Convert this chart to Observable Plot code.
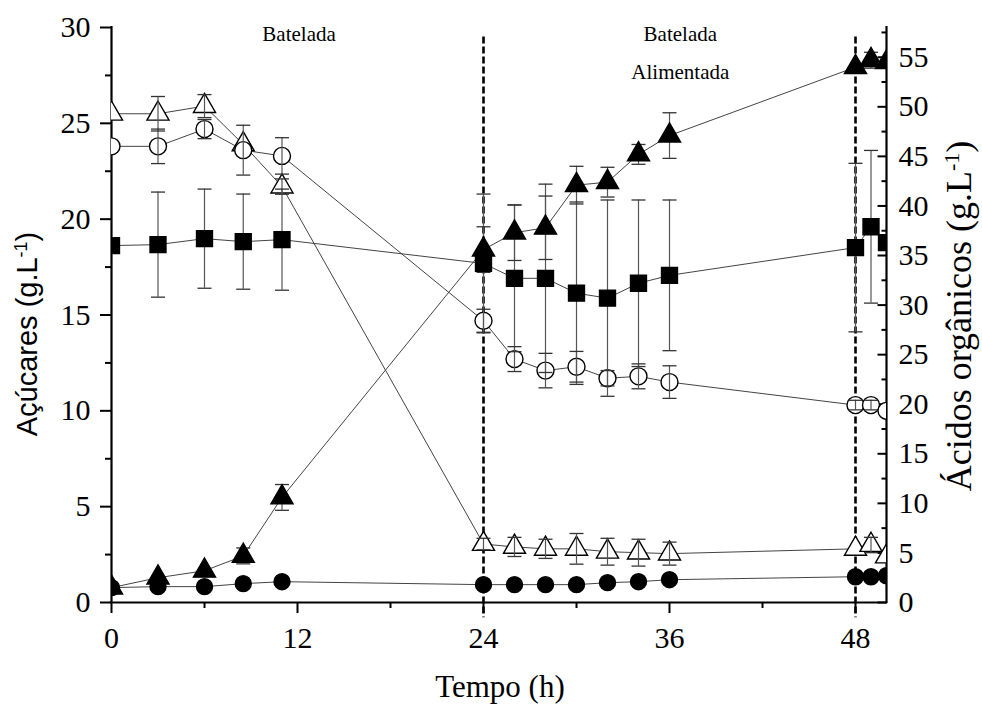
<!DOCTYPE html>
<html><head><meta charset="utf-8">
<script src="https://cdn.jsdelivr.net/npm/d3@7"></script>
<script src="https://cdn.jsdelivr.net/npm/@observablehq/plot@0.6"></script>
<style>body{margin:0;background:#fff} svg{display:block}</style>
</head><body><div id="chart"></div>
<script>
// Time points (h)
const time = [0, 3, 6, 8.5, 11, 24, 26, 28, 30, 32, 34, 36, 48, 49, 50];

// Sugars (left axis, g/L)
const sugarTriangle    = [25.5, 25.5, 25.9, 23.9, 21.7, 3.05, 2.9, 2.8, 2.8, 2.65, 2.6, 2.55, 2.8, 3.0, 2.4];
const sugarTriangleErr = [0, 0.9, 0.6, 0, 0.4, 0.3, 0.5, 0.5, 0.8, 0.7, 0.7, 0.6, 0, 0.4, 0];
const sugarCircle      = [23.8, 23.8, 24.7, 23.6, 23.3, 14.7, 12.7, 12.1, 12.3, 11.7, 11.8, 11.5, 10.3, 10.3, 10.0];
const sugarCircleErr   = [0, 0.9, 0.5, 1.3, 0.95, 0.6, 0.65, 0.9, 0.8, 0.4, 0.65, 0.85, 0.25, 0.25, 0];

// Organic acids (right axis, g/L)
const acidSquare      = [36.0, 36.1, 36.7, 36.4, 36.6, 34.2, 32.7, 32.7, 31.2, 30.7, 32.2, 33.0, 35.8, 37.9, 36.3];
const acidSquareErr   = [0, 5.3, 5.0, 4.8, 5.1, 7.0, 7.4, 9.5, 9.2, 9.9, 8.4, 7.6, 8.5, 7.7, 0];
const acidTriangle    = [1.5, 2.5, 3.2, 4.7, 10.6, 35.6, 37.3, 37.8, 42.1, 42.4, 45.2, 47.1, 54.0, 54.7, 54.5];
const acidTriangleErr = [0, 0, 0, 0.8, 1.3, 2.3, 2.8, 3.2, 1.9, 1.5, 1.0, 2.3, 0, 0.8, 0];
const acidCircle      = [1.5, 1.6, 1.6, 1.9, 2.1, 1.8, 1.8, 1.8, 1.8, 2.0, 2.1, 2.3, 2.6, 2.6, 2.7];
const acidCircleErr   = [0, 0, 0, 0, 0, 0, 0, 0, 0, 0, 0, 0, 0, 0, 0];

// Axis ticks
const xMajor = [0, 12, 24, 36, 48];
const xMinor = [6, 18, 30, 42];
const leftMajor = [0, 5, 10, 15, 20, 25, 30];
const leftMinor = [2.5, 7.5, 12.5, 17.5, 22.5, 27.5];
const rightMajor = [0, 5, 10, 15, 20, 25, 30, 35, 40, 45, 50, 55];
const rightMinor = [2.5, 7.5, 12.5, 17.5, 22.5, 27.5, 32.5, 37.5, 42.5, 47.5, 52.5, 57.5];

// Phase boundaries and labels
const phaseBoundaries = [24, 48];
const phaseLabels = [
  {text: "Batelada", t: 12.1, y: 29.3},
  {text: "Batelada", t: 36.7, y: 29.3},
  {text: "Alimentada", t: 36.7, y: 27.3}
];

const leftMax = 30, rightMax = 58;
const k = leftMax / rightMax; // right-axis units -> left-axis units

const seriesDefs = [
  {key: "sugarTri", values: sugarTriangle, err: sugarTriangleErr, scale: 1, symbol: "triangle", filled: false},
  {key: "sugarCirc", values: sugarCircle, err: sugarCircleErr, scale: 1, symbol: "circle", filled: false},
  {key: "acidSq", values: acidSquare, err: acidSquareErr, scale: k, symbol: "square", filled: true},
  {key: "acidTri", values: acidTriangle, err: acidTriangleErr, scale: k, symbol: "triangle", filled: true},
  {key: "acidCirc", values: acidCircle, err: acidCircleErr, scale: k, symbol: "circle", filled: true}
];

const rows = seriesDefs.flatMap(s => time.map((t, i) => ({
  series: s.key, t, v: s.values[i] * s.scale, e: s.err[i] * s.scale
})));
const errRows = rows.filter(d => d.e > 0);

const capSymbol = {draw(ctx) { ctx.moveTo(-7, 0); ctx.lineTo(7, 0); }};
const inTickMajor = {draw(ctx) { ctx.moveTo(-9, 0); ctx.lineTo(0, 0); }};
const inTickMinor = {draw(ctx) { ctx.moveTo(-5, 0); ctx.lineTo(0, 0); }};

const symR = {triangle: 8.2, circle: 8.5, square: 9};

const dotMarks = (filled) => seriesDefs.filter(s => s.filled === filled).map(s =>
  Plot.dot(rows.filter(d => d.series === s.key), {
    x: "t", y: "v", symbol: () => s.symbol, r: s.symbol === "circle" && filled ? 8 : symR[s.symbol],
    fill: filled ? "black" : "white", stroke: "black", strokeWidth: 1.4, clip: true
  })
);

const chart = Plot.plot({
  width: 982, height: 706,
  marginLeft: 111, marginRight: 96, marginTop: 27, marginBottom: 104,
  style: {fontFamily: "'Liberation Serif', 'Times New Roman', serif", background: "white", color: "black"},
  x: {domain: [0, 50]},
  y: {domain: [0, leftMax]},
  symbol: {type: "identity"},
  marks: [
    // axes
    Plot.axisY({ticks: leftMajor, tickSize: 11, tickPadding: 10, fontSize: 30, label: null, strokeWidth: 2}),
    Plot.axisY({ticks: leftMinor, tickSize: 6, tickFormat: () => "", label: null, strokeWidth: 2}),
    Plot.axisY({anchor: "right", ticks: rightMajor.map(v => v * k), tickFormat: d => String(Math.round(d / k)),
      tickSize: 0, tickPadding: 12, fontSize: 30, label: null}),
    Plot.axisX({ticks: xMajor, tickSize: 11, tickPadding: 13, fontSize: 30, label: null, strokeWidth: 2}),
    Plot.axisX({ticks: xMinor, tickSize: 6, tickFormat: () => "", label: null, strokeWidth: 2}),
    Plot.dot(rightMajor, {x: () => 50, y: d => d * k, symbol: () => inTickMajor, stroke: "black", strokeWidth: 2, fill: "none"}),
    Plot.dot(rightMinor, {x: () => 50, y: d => d * k, symbol: () => inTickMinor, stroke: "black", strokeWidth: 2, fill: "none"}),
    // spines
    Plot.ruleX([0], {strokeWidth: 2.2, strokeLinecap: "square"}),
    Plot.ruleX([50], {strokeWidth: 2.2, strokeLinecap: "square"}),
    Plot.ruleY([0], {strokeWidth: 2.2, strokeLinecap: "square"}),
    // phase boundaries
    Plot.ruleX(phaseBoundaries, {y1: 29.5, y2: -0.8, stroke: "black", strokeWidth: 2.6, strokeDasharray: "7,3"}),
    Plot.text(phaseLabels, {x: "t", y: "y", text: "text", fontSize: 21, lineAnchor: "bottom", textAnchor: "middle"}),
    // connecting lines
    Plot.line(rows, {x: "t", y: "v", z: "series", stroke: "#444", strokeWidth: 1, clip: true}),
    ...dotMarks(false),
    // error bars
    Plot.ruleX(errRows, {x: "t", y1: d => d.v - d.e, y2: d => d.v + d.e, stroke: "#555", strokeWidth: 1.2, clip: true}),
    Plot.dot(errRows, {x: "t", y: d => d.v + d.e, symbol: () => capSymbol, stroke: "#333", strokeWidth: 1.3, fill: "none", clip: true}),
    Plot.dot(errRows, {x: "t", y: d => d.v - d.e, symbol: () => capSymbol, stroke: "#333", strokeWidth: 1.3, fill: "none", clip: true}),
    ...dotMarks(true)
  ]
});

const svg = d3.select(chart);
// Left title (sans)
const lt = svg.append("text")
  .attr("transform", "translate(37,334) rotate(-90)")
  .attr("text-anchor", "middle")
  .style("font-family", "'Liberation Sans', Arial, sans-serif")
  .style("font-size", "29px");
lt.append("tspan").text("Açúcares (g.L");
lt.append("tspan").attr("baseline-shift", "super").style("font-size", "18px").text("-1");
lt.append("tspan").text(")");
// Right title (serif)
const rt = svg.append("text")
  .attr("transform", "translate(971,316) rotate(-90)")
  .attr("text-anchor", "middle")
  .style("font-family", "'Liberation Serif', serif")
  .style("font-size", "36px");
rt.append("tspan").text("Ácidos orgânicos (g.L");
rt.append("tspan").attr("baseline-shift", "super").style("font-size", "22px").text("-1");
rt.append("tspan").text(")");
// Bottom title
svg.append("text")
  .attr("x", 500).attr("y", 697)
  .attr("text-anchor", "middle")
  .style("font-family", "'Liberation Serif', serif")
  .style("font-size", "31px")
  .text("Tempo (h)");

document.getElementById("chart").appendChild(chart);
</script>
</body></html>
